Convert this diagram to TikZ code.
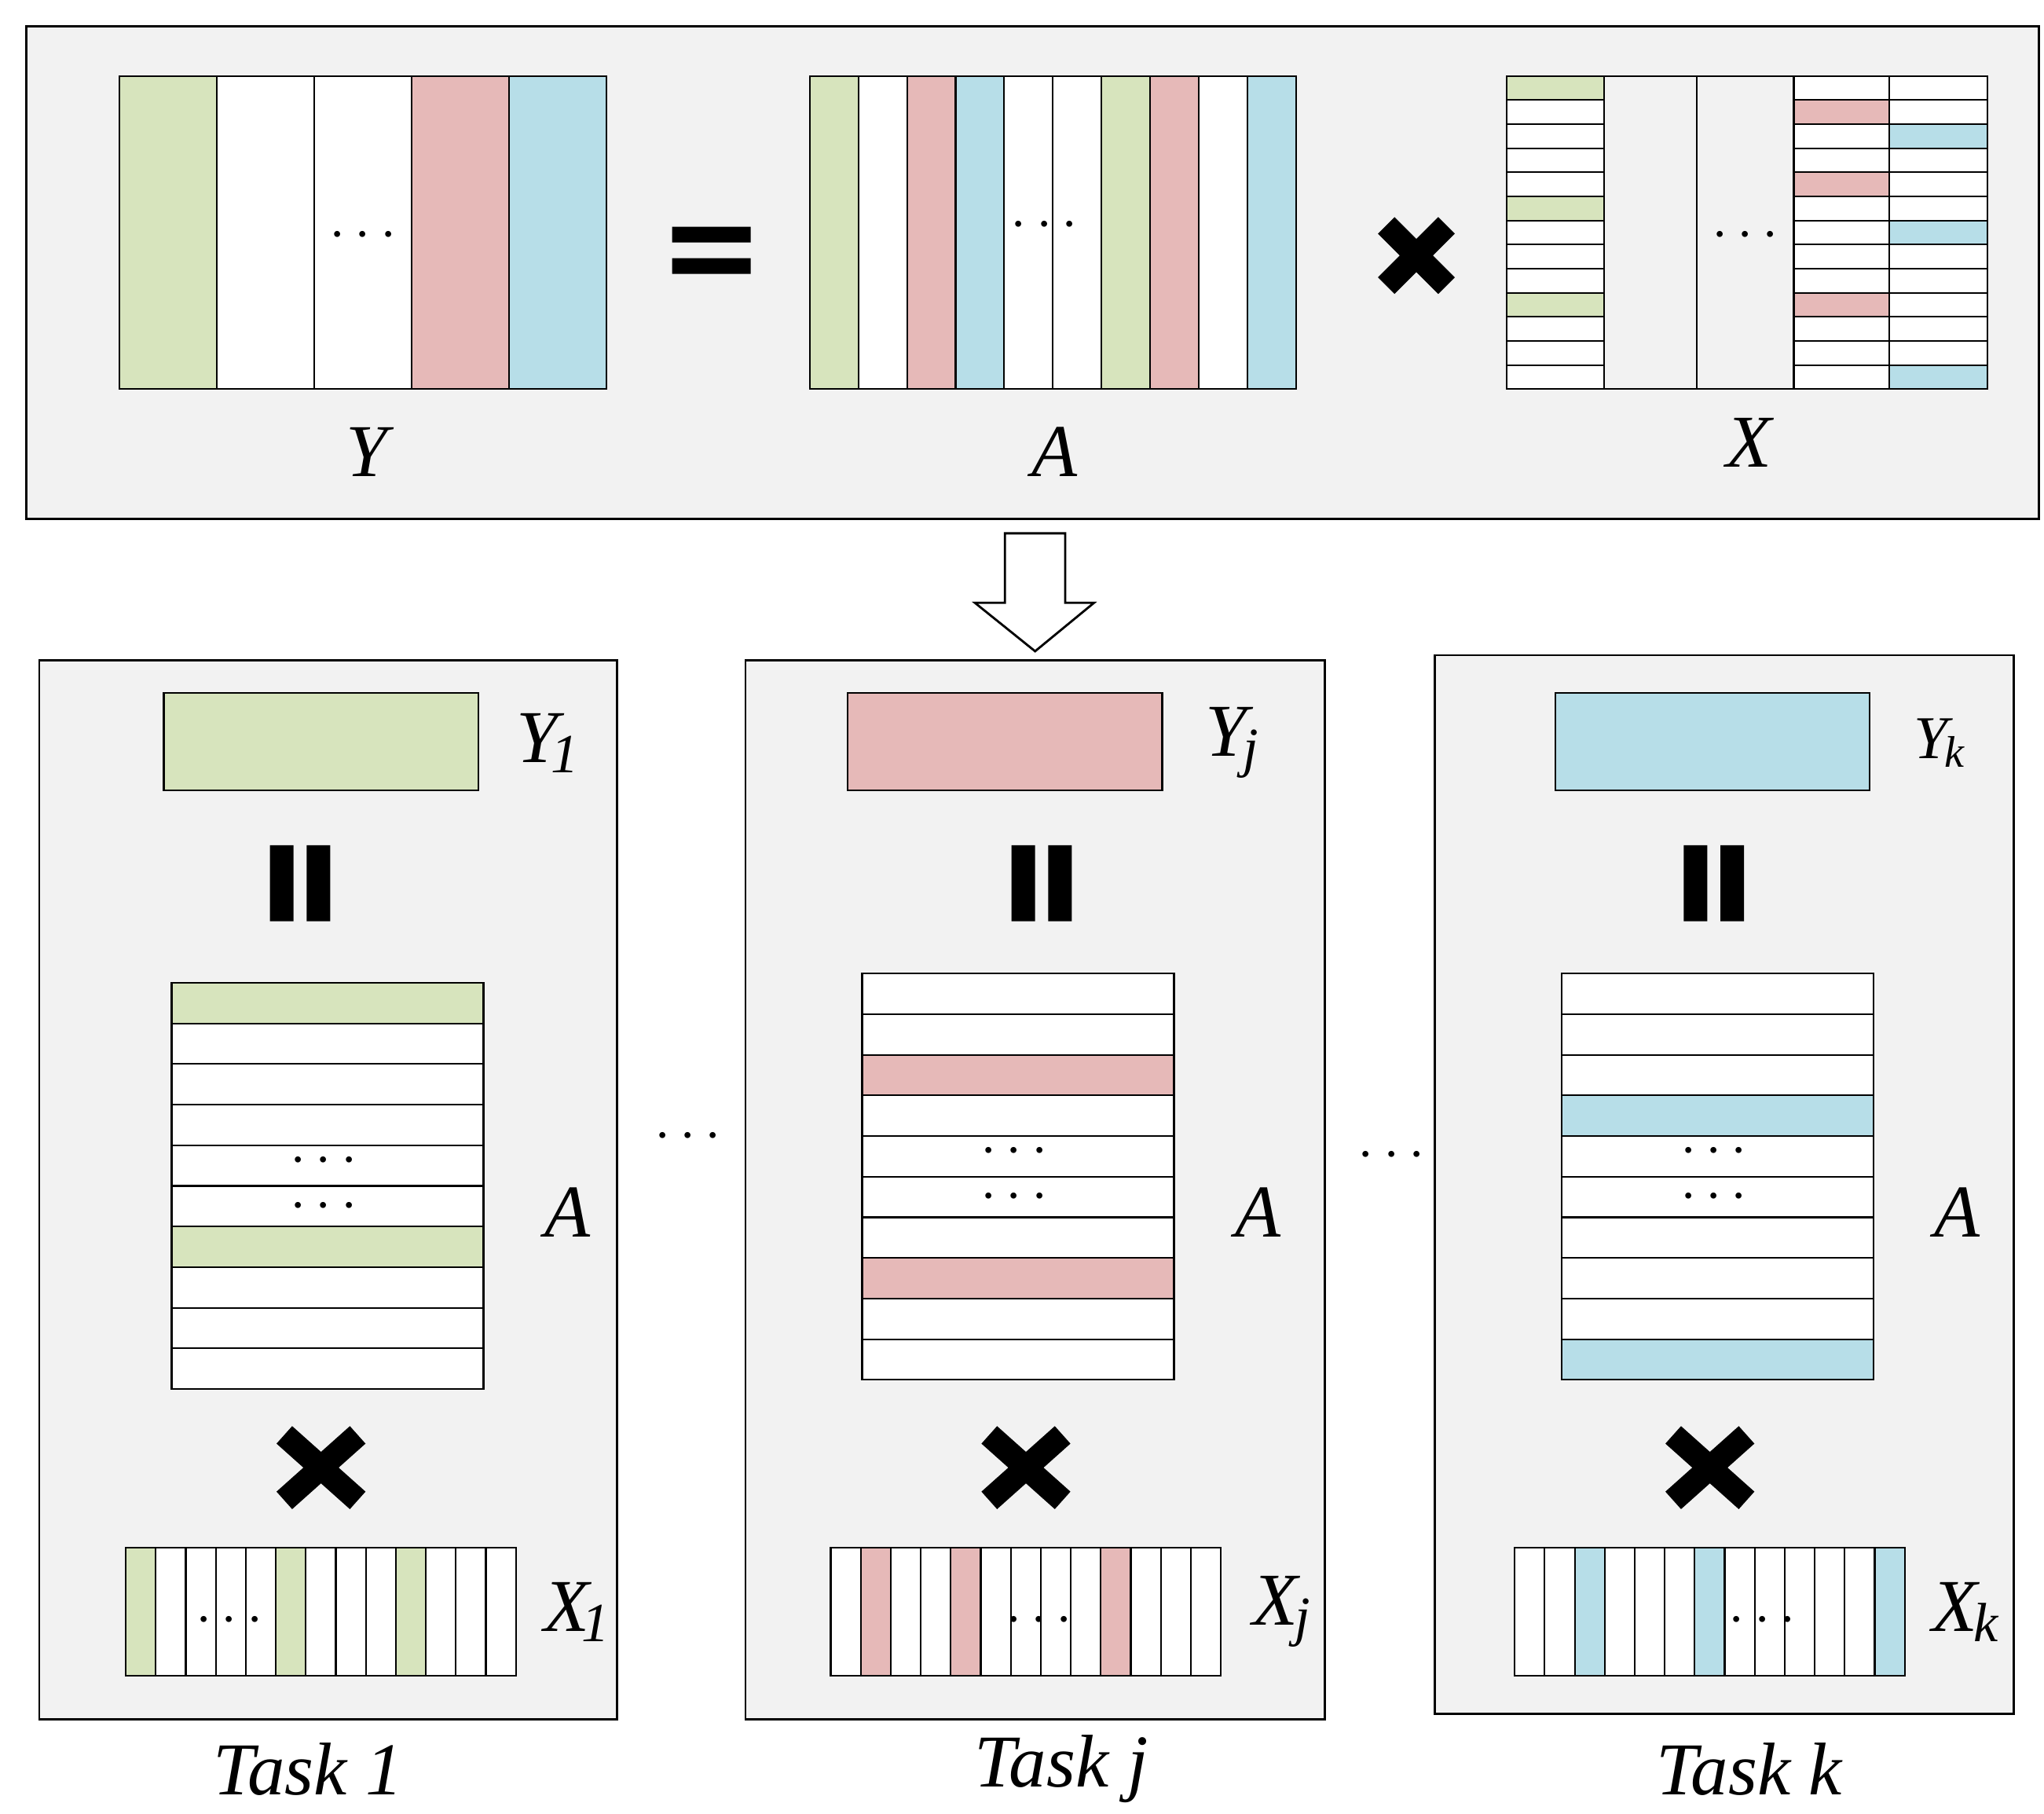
\documentclass[tikz,border=0pt]{standalone}
\usepackage{fontspec}
\setmainfont{Liberation Serif}
\begin{document}
\begin{tikzpicture}[x=0.1667mm,y=-0.1667mm,
  cell/.style={draw=black,line width=0.6pt},
  panel/.style={draw=black,fill=black!5,line width=0.8pt},
  lab/.style={font=\fontsize{27}{29}\selectfont\itshape},
  dots/.style={font=\fontsize{20}{22}\selectfont,inner sep=0pt},
  bar/.style={fill=black},
  crs/.style={line width=8.5pt}]
\definecolor{g}{HTML}{D7E4BD}\definecolor{r}{HTML}{E6B9B8}\definecolor{b}{HTML}{B7DEE8}
\useasboundingbox (0,0) rectangle (1560,1384);
\draw[panel] (20,20) rectangle (1556,396);
% Y
\foreach \c [count=\i from 0] in {g,white,white,r,b}
  \draw[cell,fill=\c] (91+\i*74.4,58) rectangle (91+\i*74.4+74.4,297);
\node[dots] (yd) at (277,180) {$\cdots$};
\node[lab] (Y) at (280,345) {Y};
\fill[bar] (513,173) rectangle (573,185) (513,197) rectangle (573,209);
% A
\foreach \c [count=\i from 0] in {g,white,r,b,white,white,g,r,white,b}
  \draw[cell,fill=\c] (618+\i*37.1,58) rectangle (618+\i*37.1+37.1,297);
\node[dots] (ad) at (797,172) {$\cdots$};
\node[lab] (A) at (805,345) {A};
\draw[crs] (1058,172)--(1104,218) (1104,172)--(1058,218);
% X
\draw[cell] (1224,58) rectangle (1295,297) (1295,58) rectangle (1369,297);
\node[dots] (xd) at (1332,180) {$\cdots$};
\foreach \x/\w in {1150/74,1369/73,1442/75}{
  \foreach \k in {0,...,12} \draw[cell,fill=white] (\x,58+\k*18.38) rectangle (\x+\w,58+\k*18.38+18.38);
}
\foreach \k in {0,5,9} \draw[cell,fill=g] (1150,58+\k*18.38) rectangle (1224,58+\k*18.38+18.38);
\foreach \k in {1,4,9} \draw[cell,fill=r] (1369,58+\k*18.38) rectangle (1442,58+\k*18.38+18.38);
\foreach \k in {2,6,12} \draw[cell,fill=b] (1442,58+\k*18.38) rectangle (1517,58+\k*18.38+18.38);
\node[lab] (X) at (1335,338) {X};
% arrow
\draw[line width=0.8pt,fill=white] (767,407)--(813,407)--(813,460)--(835,460)--(790,497)--(744,460)--(767,460)--cycle;
% panels
\draw[panel] (30,504) rectangle (471,1312);
\draw[panel] (569,504) rectangle (1011,1312);
\draw[panel] (1095,500) rectangle (1537,1308);
\node[dots] (d1) at (525,868) {$\cdots$};
\node[dots] (d2) at (1062,882) {$\cdots$};
\foreach \ya/\c/\ax/\ay/\ar/\xx/\xc/\bx/\cx/\yl/\xl/\tl/\lx in {
  125/g/131/750/{0,6}/96/{0,5,9}/206/245/{Y\kern-0.1em\raisebox{-0.3ex}{\fontsize{20}{20}\selectfont 1}}/{X\kern-0.1em\raisebox{-0.3ex}{\fontsize{20}{20}\selectfont 1}}/{Task 1}/235,
  647/r/658/743/{2,7}/634/{1,4,9}/772/783/{Y\kern-0.05em\raisebox{-0.3ex}{\fontsize{20}{20}\selectfont j}}/{X\kern-0.05em\raisebox{-0.3ex}{\fontsize{20}{20}\selectfont j}}/{Task j}/810,
  1187/b/1192/743/{3,9}/1156/{2,6,12}/1285/1305/{\fontsize{22}{22}\selectfont Y\kern-0.05em\raisebox{-0.3ex}{\fontsize{16}{16}\selectfont k}}/{X\kern-0.05em\raisebox{-0.3ex}{\fontsize{20}{20}\selectfont k}}/{Task k}/1335}{
  \draw[cell,fill=\c] (\ya,529) rectangle (\ya+240,603);
  \fill[bar] (\bx,645) rectangle (\bx+18,703) (\bx+28,645) rectangle (\bx+46,703);
  \foreach \k in {0,...,9} \draw[cell,fill=white] (\ax,\ay+\k*31) rectangle (\ax+238,\ay+\k*31+31);
  \foreach \k in \ar \draw[cell,fill=\c] (\ax,\ay+\k*31) rectangle (\ax+238,\ay+\k*31+31);
  \node[dots] at (\ax+116,\ay+136) {$\cdots$};
  \node[dots] at (\ax+116,\ay+171) {$\cdots$};
  \draw[crs] (\cx-28,1095)--(\cx+28,1145) (\cx+28,1095)--(\cx-28,1145);
  \foreach \k in {0,...,12} \draw[cell,fill=white] (\xx+\k*22.9,1181) rectangle (\xx+\k*22.9+22.9,1279);
  \foreach \k in \xc \draw[cell,fill=\c] (\xx+\k*22.9,1181) rectangle (\xx+\k*22.9+22.9,1279);
  \node[lab] at (\ya+293,567) {\yl};
  \node[lab] at (\ax+302,925) {A};
  \node[lab] at (\xx+344,1230) {\xl};
  \node[lab] at (\lx,1350) {\tl};
}
\node[dots] at (175,1237) {$\cdots$};
\node[dots] at (793,1237) {$\cdots$};
\node[dots] at (1345,1237) {$\cdots$};
\end{tikzpicture}
\end{document}
